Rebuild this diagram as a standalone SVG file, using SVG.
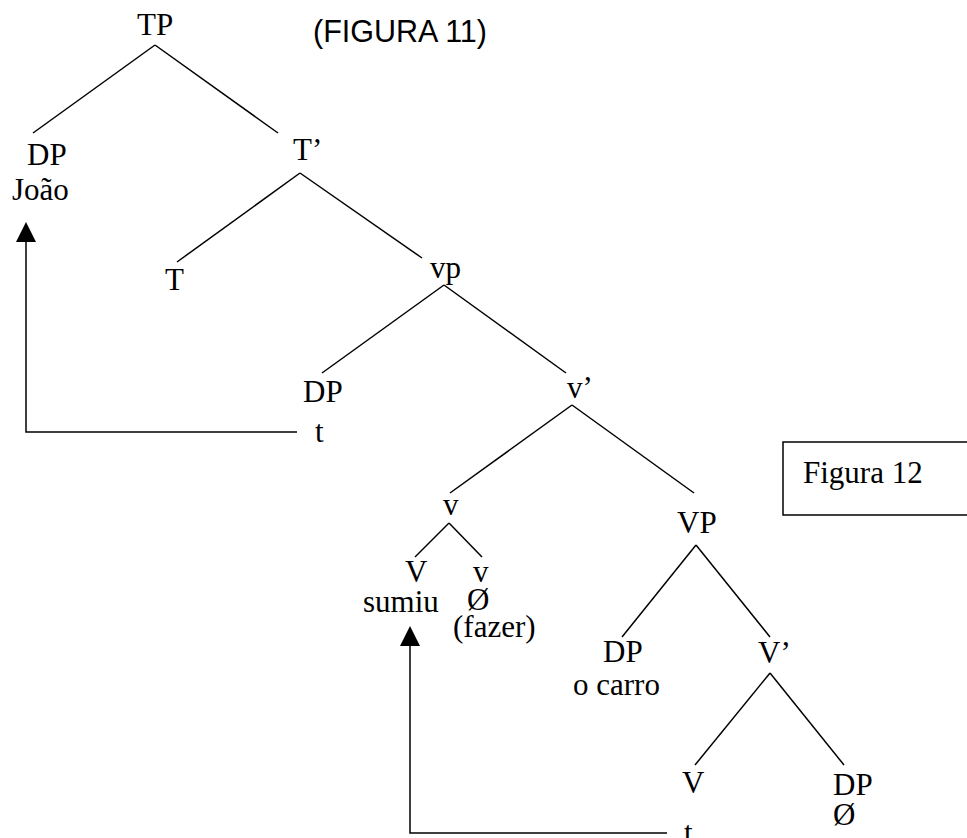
<svg xmlns="http://www.w3.org/2000/svg" width="967" height="838" viewBox="0 0 967 838">
<style>
.t{font-family:"Liberation Serif","Times New Roman",serif;font-size:31px;fill:#000}
.a{font-family:"Liberation Sans",Arial,sans-serif;font-size:30.5px;fill:#000}
.l{stroke:#000;stroke-width:1.5;fill:none}
</style>
<rect width="967" height="838" fill="#fff"/>
<g id="connectors" class="l">
<line x1="155" y1="45" x2="33" y2="133"/>
<line x1="155" y1="45" x2="278" y2="133"/>
<line x1="300" y1="173" x2="177" y2="262"/>
<line x1="300" y1="173" x2="422" y2="258"/>
<line x1="444" y1="285" x2="322" y2="373"/>
<line x1="444" y1="285" x2="566" y2="373"/>
<line x1="572" y1="405" x2="450" y2="493"/>
<line x1="572" y1="405" x2="694" y2="493"/>
<line x1="449" y1="523" x2="415" y2="557"/>
<line x1="449" y1="523" x2="482" y2="557"/>
<line x1="696" y1="545" x2="622" y2="637"/>
<line x1="696" y1="545" x2="770" y2="637"/>
<line x1="770" y1="673" x2="695" y2="765"/>
<line x1="770" y1="673" x2="844" y2="765"/>
<polyline points="297,432 26,432 26,238"/>
<polygon points="26,222 16,242 36,242" fill="#000" stroke="none"/>
<polyline points="667,833 410,833 410,642"/>
<polygon points="410,626 400,646 420,646" fill="#000" stroke="none"/>
</g>
<g id="title"><text class="a" x="313" y="42">(FIGURA 11)</text></g>
<g id="n-TP"><text class="t" x="137" y="35">TP</text></g>
<g id="n-DP1"><text class="t" x="27" y="165">DP</text><text class="t" x="12" y="200">João</text></g>
<g id="n-Tbar"><text class="t" x="293" y="160">T’</text></g>
<g id="n-T"><text class="t" x="165" y="290">T</text></g>
<g id="n-vp"><text class="t" x="430" y="278">vp</text></g>
<g id="n-DP2"><text class="t" x="303" y="402">DP</text><text class="t" x="315" y="442">t</text></g>
<g id="n-vbar"><text class="t" x="567" y="398">v’</text></g>
<g id="n-v"><text class="t" x="443" y="515">v</text></g>
<g id="n-VP"><text class="t" x="677" y="533">VP</text></g>
<g id="n-V1"><text class="t" x="405" y="582">V</text><text class="t" x="363" y="612">sumiu</text></g>
<g id="n-v2"><text class="t" x="473" y="582">v</text><text class="t" x="467" y="610">Ø</text><text class="t" x="453" y="637">(fazer)</text></g>
<g id="n-DP3"><text class="t" x="603" y="662">DP</text><text class="t" x="573" y="695">o carro</text></g>
<g id="n-Vbar"><text class="t" x="758" y="663">V’</text></g>
<g id="n-V2"><text class="t" x="682" y="793">V</text><text class="t" x="684" y="843">t</text></g>
<g id="n-DP4"><text class="t" x="833" y="795">DP</text><text class="t" x="833" y="825">Ø</text></g>
<g id="fig12"><rect x="783" y="442" width="200" height="73" class="l"/><text class="t" x="803" y="483">Figura 12</text></g>
</svg>
